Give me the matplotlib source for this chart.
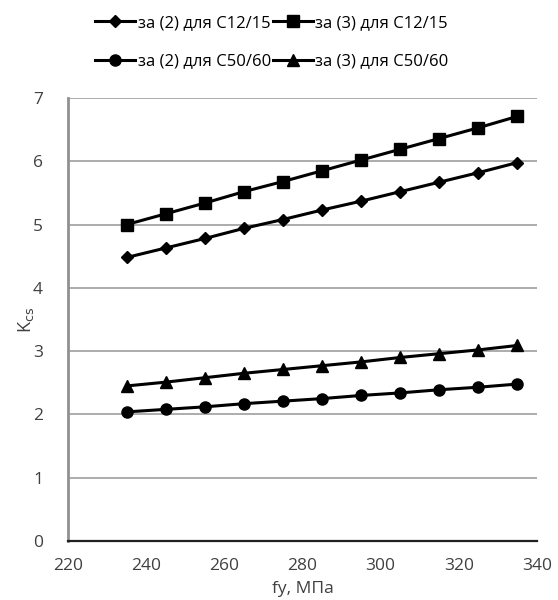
import matplotlib
matplotlib.use("Agg")
import matplotlib.pyplot as plt

fy = [235, 245, 255, 265, 275, 285, 295, 305, 315, 325, 335]
s2_c12 = [4.48, 4.63, 4.78, 4.94, 5.08, 5.23, 5.37, 5.52, 5.67, 5.82, 5.98]
s3_c12 = [5.00, 5.17, 5.34, 5.52, 5.68, 5.85, 6.02, 6.19, 6.36, 6.53, 6.71]
s2_c50 = [2.04, 2.08, 2.12, 2.17, 2.21, 2.25, 2.30, 2.34, 2.39, 2.43, 2.48]
s3_c50 = [2.45, 2.51, 2.58, 2.65, 2.71, 2.77, 2.83, 2.90, 2.96, 3.02, 3.09]
labels = ["за (2) для С12/15", "за (3) для С12/15", "за (2) для С50/60", "за (3) для С50/60"]
xticks = [220, 240, 260, 280, 300, 320, 340]
yticks = [0, 1, 2, 3, 4, 5, 6, 7]

plt.rcParams['font.family'] = ['Open Sans', 'DejaVu Sans']

fig = plt.figure(figsize=(5.58, 6.0), dpi=100)
ax = fig.add_axes([68/558, 59/600, (537-68)/558, (541-98)/600])

series = [s2_c12, s3_c12, s2_c50, s3_c50]
markers = ['D', 's', 'o', '^']
msizes = [6, 8, 8, 8]
lines = []
for vals, m, ms, lab in zip(series, markers, msizes, labels):
    l, = ax.plot(fy, vals, color='black', lw=2.2, marker=m, ms=ms, label=lab)
    lines.append(l)

ax.set_xlim(220, 340)
ax.set_ylim(0, 7)
ax.set_xticks(xticks)
ax.set_yticks(yticks)
ax.grid(axis='y', color='#a6a6a6', lw=1.3)
ax.set_axisbelow(True)
for s in ['top', 'right']:
    ax.spines[s].set_visible(False)
ax.spines['left'].set_color('#909090')
ax.spines['left'].set_linewidth(2.0)
ax.spines['bottom'].set_color('#202020')
ax.spines['bottom'].set_linewidth(1.6)
ax.tick_params(axis='both', length=0, labelsize=12.5, colors='#404040')
ax.tick_params(axis='y', pad=18)
ax.tick_params(axis='x', pad=12)
ax.set_xlabel('fy, МПа', fontsize=12.5, color='#404040', labelpad=5)
ax.set_ylabel(r'K$_{\mathrm{cs}}$', fontsize=13, color='#404040')
ax.yaxis.set_label_coords(-0.068, 0.5)

order = [0, 2, 1, 3]
fig.legend(handles=[lines[i] for i in order], labels=[labels[i] for i in order],
           loc='upper center', bbox_to_anchor=(0.487, 1.0),
           ncol=2, frameon=False, fontsize=12, handlelength=2.4, handletextpad=0.15,
           columnspacing=0.1, labelspacing=1.35, borderaxespad=0.5)

fig.savefig('out.png', dpi=100)
